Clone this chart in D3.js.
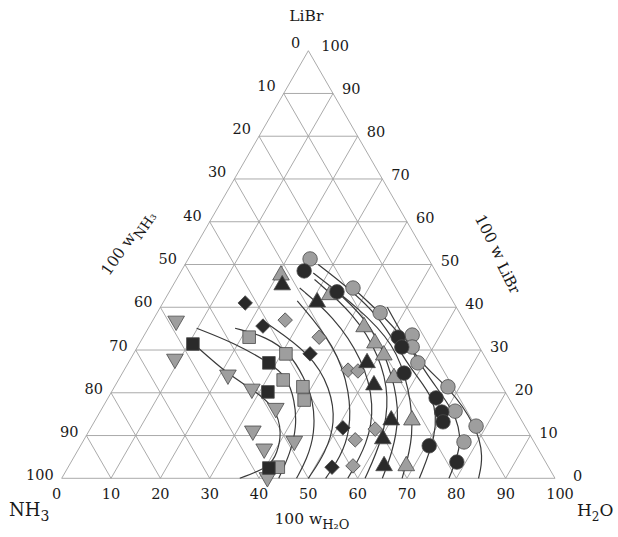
<!DOCTYPE html>
<html>
<head>
<meta charset="utf-8">
<script src="https://cdn.jsdelivr.net/npm/d3@7"></script>
<style>
  body { margin: 0; background: #fff; }
  svg text { font-family: "DejaVu Serif", "Liberation Serif", serif; fill: #1a1a1a; }
</style>
</head>
<body>
<figure id="ternary" style="margin:0"></figure>
<script>
// data: each point is [100 w_H2O, 100 w_LiBr]; NH3 is the rest
var ticks = [0, 10, 20, 30, 40, 50, 60, 70, 80, 90, 100];

var blackCircles = [[24.9, 48.5], [34.0, 43.6], [51.7, 33.0], [53.6, 30.7], [57.1, 24.6],
  [66.5, 18.8], [69.3, 15.5], [70.7, 13.2], [70.7, 7.6], [78.2, 3.8]];
var grayCircles = [[24.7, 51.3], [36.8, 44.5], [45.2, 38.7], [54.3, 33.5], [55.7, 30.7],
  [58.7, 27.0], [67.6, 21.4], [71.9, 15.7], [77.9, 12.2], [77.3, 8.5]];
var blackTriangles = [[22.1, 45.2], [31.2, 41.2], [48.4, 27.0], [52.4, 21.8], [60.0, 13.6],
  [60.5, 9.2], [63.9, 2.9]];
var grayTriangles = [[20.7, 47.5], [32.9, 42.9], [43.6, 35.4], [47.7, 31.6], [50.9, 28.8],
  [55.6, 23.5], [64.2, 13.6], [68.4, 2.9]];
var blackDiamonds = [[16.7, 41.0], [23.0, 35.6], [35.8, 29.1], [51.1, 11.8], [53.5, 2.6]];
var grayDiamonds = [[26.8, 37.0], [35.7, 33.0], [45.4, 25.3], [47.5, 25.1], [57.8, 11.5],
  [55.0, 9.0], [57.6, 2.9]];
var blackSquares = [[10.9, 31.4], [28.5, 27.0], [31.7, 20.2], [40.8, 2.4]];
var graySquares = [[21.5, 33.0], [30.9, 29.1], [33.4, 23.0], [38.2, 21.4], [40.0, 18.3], [42.6, 2.6]];
var grayDownTriangles = [[4.8, 36.8], [9.0, 27.9], [21.6, 24.2], [28.1, 20.9], [35.2, 16.4],
  [33.2, 11.1], [42.8, 8.7], [37.6, 6.9], [41.6, 0.2]];

// solubility curves
var curves = [
  [[10.8, 31.6], [21.7, 24.2], [28.0, 21.0], [35.1, 16.6], [39.4, 10.5], [40.7, 5.9], [40.9, 2.7], [36.1, 0]],
  [[9.8, 35.1], [19.3, 31.6], [28.6, 27.0], [33.7, 23.8], [38.1, 18.3], [41.6, 12.1], [43.4, 5.9], [44.0, 0]],
  [[17.6, 35.1], [25.0, 33.1], [31.7, 29.2], [37.1, 23.8], [41.9, 18.3], [46.1, 10.5], [47.5, 4.3], [47.6, 0]],
  [[23.0, 36.5], [36.0, 29.1], [44.0, 21.0], [49.0, 13.0], [50.5, 6.0], [50.0, 0]],
  [[27.0, 41.5], [40.0, 31.0], [48.5, 20.0], [53.0, 11.0], [54.0, 5.0], [53.5, 0]],
  [[26.0, 44.5], [36.0, 38.0], [47.0, 28.0], [55.0, 17.0], [58.0, 8.0], [58.0, 0]],
  [[28.0, 46.5], [40.0, 38.5], [50.0, 28.8], [57.0, 19.0], [60.5, 9.2], [61.5, 0]],
  [[34.0, 43.6], [45.0, 36.0], [55.6, 23.5], [61.5, 14.0], [64.0, 6.0], [65.0, 0]],
  [[27.0, 48.0], [40.0, 40.0], [51.7, 31.5], [60.0, 21.0], [66.5, 10.0], [69.0, 0]],
  [[27.0, 50.0], [45.2, 38.7], [57.1, 26.0], [66.5, 18.8], [71.0, 10.0], [72.5, 0]],
  [[36.8, 44.5], [52.0, 34.0], [62.0, 24.0], [71.8, 15.8], [77.3, 8.2], [78.5, 0]],
  [[46.0, 40.0], [58.7, 27.0], [67.6, 21.6], [78.1, 12.1], [83.0, 5.0], [84.5, 0]]
];

// set the dimensions of the triangle
var x0 = 61.7, x1 = 555, yBase = 478.3, yApex = 50.7;
var width = 618, height = 537;

var x = d3.scaleLinear().domain([0, 100]).range([x0, x1]);
var y = d3.scaleLinear().domain([0, 100]).range([yBase, yApex]);

// ternary -> screen
function px(h, l) { return x(h + l / 2); }
function py(h, l) { return y(l); }

var svg = d3.select("figure#ternary")
  .append("svg")
    .attr("width", width)
    .attr("height", height);

// grid lines, every 10 %
var grid = svg.append("g")
  .attr("stroke", "#a0a0a0")
  .attr("stroke-width", 0.9)
  .attr("fill", "none");

ticks.slice(1, -1).forEach(function(t) {
  // constant LiBr
  grid.append("line")
    .attr("x1", px(0, t)).attr("y1", py(0, t))
    .attr("x2", px(100 - t, t)).attr("y2", py(100 - t, t));
  // constant H2O
  grid.append("line")
    .attr("x1", px(t, 0)).attr("y1", py(t, 0))
    .attr("x2", px(t, 100 - t)).attr("y2", py(t, 100 - t));
  // constant NH3
  grid.append("line")
    .attr("x1", px(100 - t, 0)).attr("y1", py(100 - t, 0))
    .attr("x2", px(0, 100 - t)).attr("y2", py(0, 100 - t));
});

grid.append("path")
  .attr("d", "M" + px(0, 0) + "," + py(0, 0) +
             "L" + px(100, 0) + "," + py(100, 0) +
             "L" + px(0, 100) + "," + py(0, 100) + "Z");

// curves
var line = d3.line()
  .x(function(d) { return px(d[0], d[1]); })
  .y(function(d) { return py(d[0], d[1]); })
  .curve(d3.curveBasis);

svg.append("g")
  .selectAll("path")
  .data(curves)
  .enter()
  .append("path")
    .attr("d", line)
    .attr("fill", "none")
    .attr("stroke", "#3a3a3a")
    .attr("stroke-width", 1.2);

// markers
var dark = "#2a2a2a", grey = "#9e9e9e", edge = "#4a4a4a";
var series = [
  {data: grayDownTriangles, type: d3.symbolTriangle, fill: grey, size: 120, rotate: 180},
  {data: graySquares, type: d3.symbolSquare, fill: grey, size: 160, rotate: 0},
  {data: blackSquares, type: d3.symbolSquare, fill: dark, size: 160, rotate: 0},
  {data: grayDiamonds, type: d3.symbolSquare, fill: grey, size: 105, rotate: 45},
  {data: blackDiamonds, type: d3.symbolSquare, fill: dark, size: 105, rotate: 45},
  {data: grayTriangles, type: d3.symbolTriangle, fill: grey, size: 120, rotate: 0},
  {data: blackTriangles, type: d3.symbolTriangle, fill: dark, size: 120, rotate: 0},
  {data: grayCircles, type: d3.symbolCircle, fill: grey, size: 165, rotate: 0},
  {data: blackCircles, type: d3.symbolCircle, fill: dark, size: 165, rotate: 0}
];

series.forEach(function(s) {
  svg.append("g")
    .selectAll("path")
    .data(s.data)
    .enter()
    .append("path")
      .attr("d", d3.symbol().type(s.type).size(s.size))
      .attr("transform", function(d) {
        return "translate(" + px(d[0], d[1]) + "," + py(d[0], d[1]) + ") rotate(" + s.rotate + ")";
      })
      .attr("fill", s.fill)
      .attr("stroke", edge)
      .attr("stroke-width", 0.8);
});

// tick labels
var lab = svg.append("g").attr("font-size", 14.5);

// bottom: 100 w_H2O
lab.selectAll(".tb")
  .data(ticks)
  .enter()
  .append("text")
    .attr("x", function(t) { return px(t, 0) + (t === 100 ? 5 : t === 0 ? -5 : 0); })
    .attr("y", yBase + 21)
    .attr("text-anchor", "middle")
    .text(function(t) { return t; });

// left: 100 w_NH3
lab.selectAll(".tl")
  .data(ticks)
  .enter()
  .append("text")
    .attr("x", function(t) { return px(0, 100 - t) - 8; })
    .attr("y", function(t) { return py(0, 100 - t) + 2 - (100 - t) * 0.05; })
    .attr("text-anchor", "end")
    .text(function(t) { return t; });

// right: 100 w_LiBr
lab.selectAll(".tr")
  .data(ticks)
  .enter()
  .append("text")
    .attr("x", function(t) { return px(100 - t, t) + (t === 0 ? 18 : t === 100 ? 13 : 9); })
    .attr("y", function(t) { return py(100 - t, t) + 3 - t * 0.03; })
    .attr("text-anchor", "start")
    .text(function(t) { return t; });

// corner names
svg.append("text")
  .attr("x", px(0, 100) - 2).attr("y", 21)
  .attr("text-anchor", "middle").attr("font-size", 15.5)
  .text("LiBr");

var nh3 = svg.append("text").attr("x", 9).attr("y", 516).attr("font-size", 18);
nh3.append("tspan").text("NH");
nh3.append("tspan").attr("font-size", 14).attr("dy", 5).text("3");

var h2o = svg.append("text").attr("x", 577).attr("y", 516).attr("font-size", 17);
h2o.append("tspan").text("H");
h2o.append("tspan").attr("font-size", 12).attr("dy", 5).text("2");
h2o.append("tspan").attr("dy", -5).text("O");

// axis titles
function axisTitle(tx, ty, angle, sub, subSize, subDy) {
  var t = svg.append("text")
    .attr("transform", "translate(" + tx + "," + ty + ") rotate(" + angle + ")")
    .attr("text-anchor", "middle")
    .attr("font-size", 15.5);
  t.append("tspan").text("100 w");
  t.append("tspan").attr("font-size", subSize).attr("dy", subDy).text(sub);
}
axisTitle(312, 524, 0, "H\u2082O", 13, 5);
axisTitle(131, 245, -55, "NH\u2083", 13.5, 5);
axisTitle(494, 256, 63, " LiBr", 15, 2);
</script>
</body>
</html>
